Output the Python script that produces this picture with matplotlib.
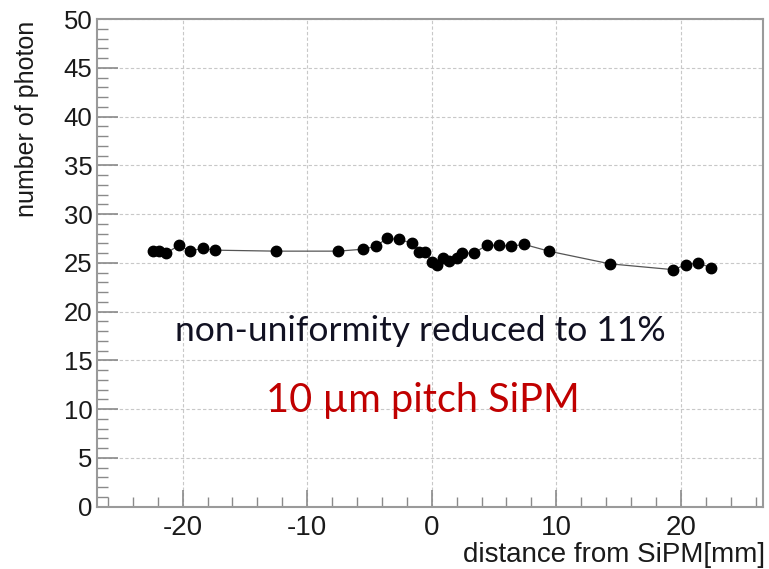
import matplotlib.pyplot as plt
from matplotlib.ticker import MultipleLocator

# distance from SiPM [mm] and number of photons
distance = [-22.4, -21.9, -21.3, -20.3, -19.4, -18.4, -17.4, -12.5, -7.5, -5.5,
            -4.5, -3.6, -2.6, -1.55, -1.0, -0.5, 0.0, 0.4, 0.9, 1.4,
            2.0, 2.4, 3.4, 4.4, 5.4, 6.4, 7.4, 9.4, 14.3, 19.4,
            20.4, 21.4, 22.4]
photons = [26.2, 26.2, 26.0, 26.8, 26.2, 26.5, 26.3, 26.2, 26.2, 26.4,
           26.7, 27.5, 27.4, 27.0, 26.1, 26.1, 25.1, 24.8, 25.5, 25.2,
           25.5, 26.0, 26.0, 26.8, 26.8, 26.7, 26.9, 26.2, 24.9, 24.3,
           24.8, 25.0, 24.5]

note = "non-uniformity reduced to 11%"
label = "10 \u00b5m pitch SiPM"

plt.rcParams['font.family'] = ['Liberation Sans', 'DejaVu Sans']
plt.rcParams['axes.unicode_minus'] = False

fig = plt.figure(figsize=(7.69, 5.69), dpi=100)
ax = fig.add_axes([0.1257, 0.1095, 0.8665, 0.8571])

ax.plot(distance, photons, color='#555555', lw=0.9, zorder=2)
ax.plot(distance, photons, 'o', color='black', ms=7.5, zorder=3, lw=0)

ax.set_xlim(-26.9, 26.6)
ax.set_ylim(0, 50)

ax.xaxis.set_major_locator(MultipleLocator(10))
ax.xaxis.set_minor_locator(MultipleLocator(2))
ax.yaxis.set_major_locator(MultipleLocator(5))
ax.yaxis.set_minor_locator(MultipleLocator(1))

ax.grid(True, which='major', color='#c8c8c8', ls=(0, (3, 2)), lw=0.8)
ax.set_axisbelow(True)

for s in ax.spines.values():
    s.set_color('#9a9a9a')
    s.set_linewidth(1.5)

ax.tick_params(axis='both', which='both', direction='in', colors='#8a8a8a',
               labelcolor='#1a1a1a', top=False, right=False)
ax.tick_params(axis='y', which='major', length=15, width=1.2, pad=3, labelsize=18.5)
ax.tick_params(axis='y', which='minor', length=8, width=1)
ax.tick_params(axis='x', which='major', length=12, width=1.2, pad=6, labelsize=20)
ax.tick_params(axis='x', which='minor', length=7, width=1)

ax.set_xlabel('distance from SiPM[mm]', fontsize=20, color='#1a1a1a', loc='right')
ax.set_ylabel('number of photon', fontsize=18, color='#1a1a1a', loc='top')
ax.xaxis.set_label_coords(1.003, -0.072)
ax.yaxis.set_label_coords(-0.087, 0.996)

ax.text(-0.94, 18.0, note, fontsize=25.5, color='#111122', family='Lato',
        ha='center', va='center')
ax.text(-0.7, 10.9, label, fontsize=28.5, color='#c00000', family='Lato',
        ha='center', va='center')

fig.savefig('out.png', dpi=100)
